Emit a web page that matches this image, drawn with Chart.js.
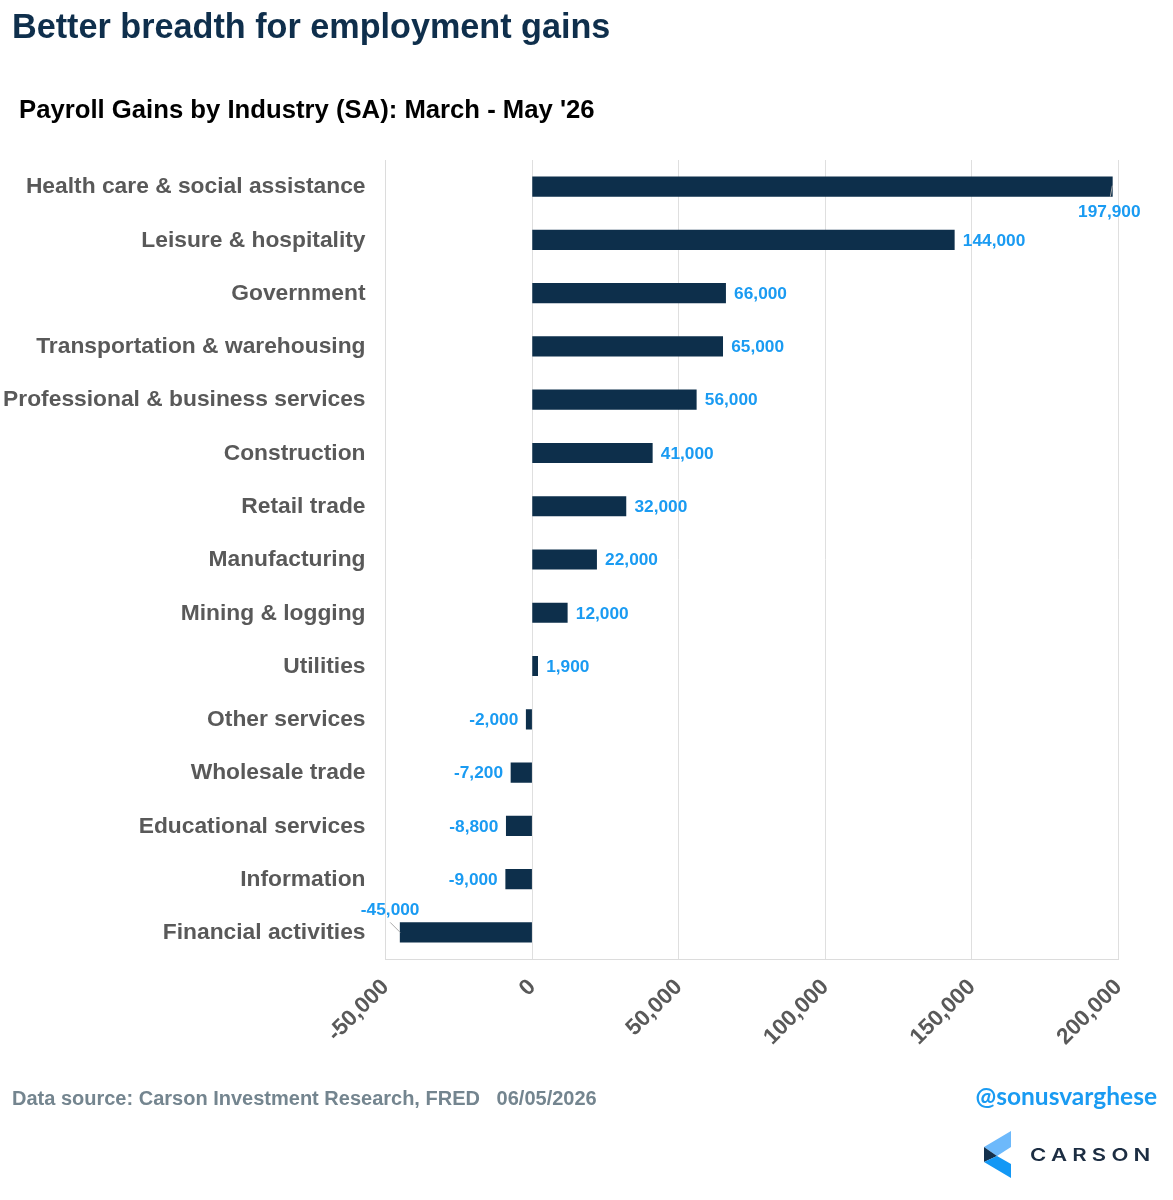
<!DOCTYPE html>
<html>
<head>
<meta charset="utf-8">
<title>Better breadth for employment gains</title>
<script src="https://cdn.jsdelivr.net/npm/chart.js@4"></script>
<style>
    html, body { margin: 0; padding: 0; background: #fff; }
    body { width: 1173px; height: 1200px; position: relative; overflow: hidden; font-family: "Liberation Sans", Arial, sans-serif; }
    .chart-box { position: absolute; left: 0; top: 0; width: 1173px; height: 1200px; }
    .txt { position: absolute; white-space: nowrap; font-weight: bold; line-height: 1; }
    #title { left: 12px; top: 9px; font-size: 34.2px; color: #0f2f4c; }
    #subtitle { left: 19px; top: 97px; font-size: 25.7px; color: #000; }
    #source { left: 12px; top: 1088px; font-size: 20px; color: #74858f; }
    #handle { right: 16px; top: 1084px; font-family: Lato, sans-serif; font-size: 24.5px; color: #1a9bf2; }
    #brand { left: 1030px; top: 1147px; font-family: Inter, sans-serif; font-size: 17px; font-weight: 600; color: #1c2d42; letter-spacing: 4px; transform: scaleX(1.3); transform-origin: left center; }
    #logo { position: absolute; left: 983px; top: 1131px; }
</style>
</head>
<body>
<div class="chart-box"><canvas id="payrollChart" width="1173" height="1200"></canvas></div>
<div class="txt" id="title">Better breadth for employment gains</div>
<div class="txt" id="subtitle">Payroll Gains by Industry (SA): March - May '26</div>
<div class="txt" id="source">Data source: Carson Investment Research, FRED&nbsp;&nbsp;&nbsp;06/05/2026</div>
<div class="txt" id="handle">@sonusvarghese</div>
<svg id="logo" width="30" height="48" viewBox="0 0 30 48">
    <polygon points="1,16 28,0 28,16 14,25" fill="#6db9fb"/>
    <polygon points="1,16 14,25 1,31" fill="#14304c"/>
    <polygon points="1,31 14,25 28,33 28,47" fill="#1398f5"/>
</svg>
<div class="txt" id="brand">CARSON</div>

<script>
const categories = [
    'Health care & social assistance', 'Leisure & hospitality', 'Government',
    'Transportation & warehousing', 'Professional & business services', 'Construction',
    'Retail trade', 'Manufacturing', 'Mining & logging', 'Utilities', 'Other services',
    'Wholesale trade', 'Educational services', 'Information', 'Financial activities'
];
const payrollGains = [
    197900, 144000, 66000, 65000, 56000, 41000, 32000, 22000,
    12000, 1900, -2000, -7200, -8800, -9000, -45000
];
const axisMin = -50000;
const axisMax = 200000;
const axisStep = 50000;

function fmt(v) {
    return v.toLocaleString('en-US');
}

// draws the value labels, the first and last one sit off the bar with a small leader line
const valueLabels = {
    id: 'valueLabels',
    afterDatasetsDraw(chart) {
        const ctx = chart.ctx;
        const bars = chart.getDatasetMeta(0).data;
        ctx.save();
        ctx.font = 'bold 17.3px "Liberation Sans", Arial, sans-serif';
        ctx.fillStyle = '#1a9bf2';
        ctx.textBaseline = 'middle';
        bars.forEach(function(bar, i) {
            const v = payrollGains[i];
            if (i === 0) {
                ctx.strokeStyle = '#a9a9a9';
                ctx.lineWidth = 1;
                ctx.beginPath();
                ctx.moveTo(bar.x, bar.y - 1);
                ctx.lineTo(bar.x - 2, bar.y + 10);
                ctx.stroke();
                ctx.textAlign = 'center';
                ctx.fillText(fmt(v), bar.x - 3, bar.y + 26);
            } else if (i === bars.length - 1) {
                ctx.strokeStyle = '#a9a9a9';
                ctx.lineWidth = 1;
                ctx.beginPath();
                ctx.moveTo(bar.x, bar.y);
                ctx.lineTo(bar.x - 10, bar.y - 10);
                ctx.stroke();
                ctx.textAlign = 'center';
                ctx.fillText(fmt(v), bar.x - 10, bar.y - 22);
            } else if (v < 0) {
                ctx.textAlign = 'right';
                ctx.fillText(fmt(v), bar.x - 8, bar.y + 1);
            } else {
                ctx.textAlign = 'left';
                ctx.fillText(fmt(v), bar.x + 8.5, bar.y + 1);
            }
        });
        ctx.restore();
    }
};

const chart = new Chart(document.getElementById('payrollChart').getContext('2d'), {
    type: 'bar',
    data: {
        labels: categories,
        datasets: [{
            data: payrollGains,
            backgroundColor: '#0d2f4b',
            barThickness: 19.5,
            borderWidth: 0
        }]
    },
    plugins: [valueLabels],
    options: {
        indexAxis: 'y',
        responsive: false,
        animation: false,
        devicePixelRatio: 1,
        layout: {
            padding: { top: 160, right: 54.5, left: 0, bottom: 0 }
        },
        scales: {
            x: {
                min: axisMin,
                max: axisMax,
                afterFit: function(axis) { axis.height = 241; },
                border: { color: '#dcdcdc', width: 1 },
                grid: { color: '#dfdfdf', drawTicks: false },
                ticks: {
                    stepSize: axisStep,
                    minRotation: 45,
                    maxRotation: 45,
                    padding: 15,
                    color: '#595959',
                    font: { family: '"Liberation Sans", Arial, sans-serif', size: 22.5, weight: 'bold' },
                    callback: function(v) { return fmt(v); }
                }
            },
            y: {
                afterFit: function(axis) { axis.width = 385.5; },
                border: { color: '#dcdcdc', width: 1 },
                grid: { display: false, drawTicks: false },
                ticks: {
                    autoSkip: false,
                    padding: 20,
                    labelOffset: 0.5,
                    color: '#595959',
                    font: { family: '"Liberation Sans", Arial, sans-serif', size: 22.8, weight: 'bold' }
                }
            }
        },
        plugins: {
            legend: { display: false },
            title: { display: false },
            tooltip: { enabled: false }
        }
    }
});
</script>
</body>
</html>
